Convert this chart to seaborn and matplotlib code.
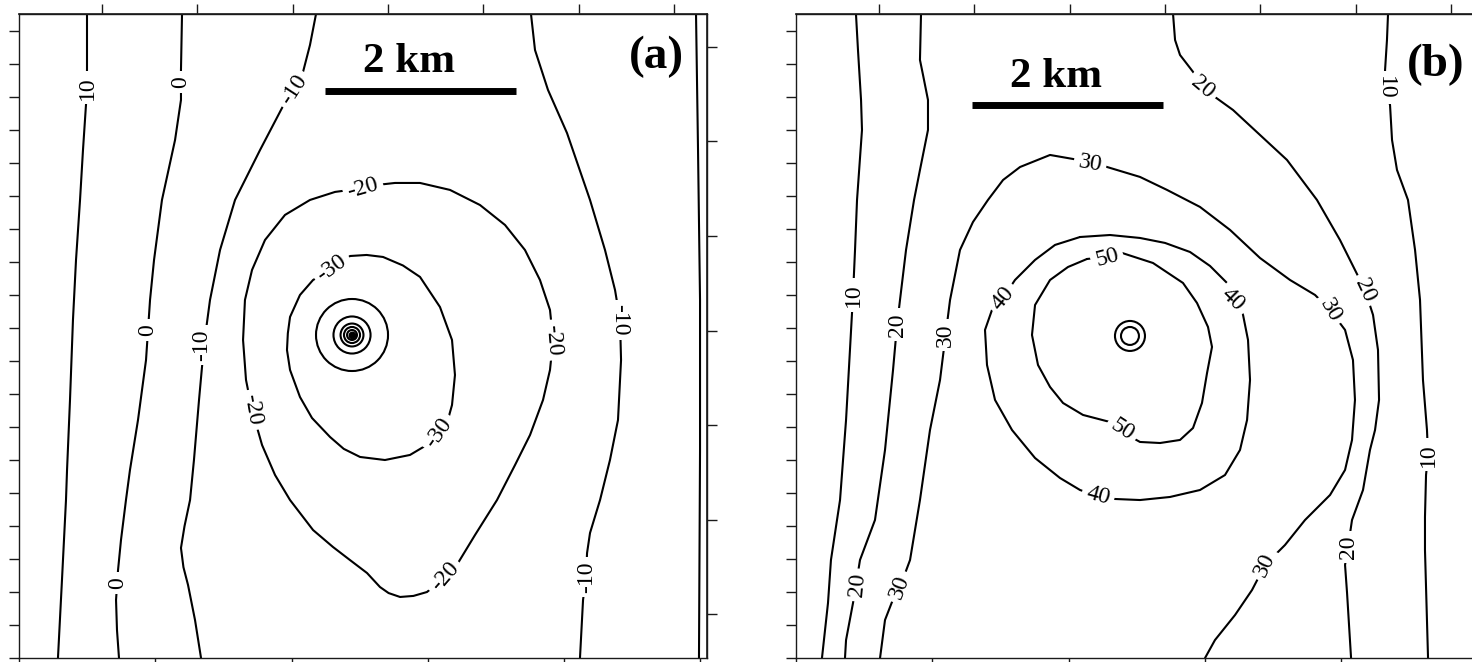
import numpy as np
import pandas as pd
import matplotlib
matplotlib.use("Agg")
import matplotlib.pyplot as plt
from matplotlib.patches import Circle
import seaborn as sns

# ------------------------------------------------------------------
# Contour paths, (x, y) in km from the lower-left corner of each map
# ------------------------------------------------------------------

# ---- panel (a) ----
A_10_W = [(0.712, 6.743), (0.712, 6.157), (0.702, 5.801), (0.670, 5.319), (0.639, 4.796),
          (0.597, 4.168), (0.565, 3.539), (0.534, 2.702), (0.503, 1.969), (0.492, 1.654),
          (0.450, 0.817), (0.408, 0.000)]
A_10_W_LABELS = [(0.712, 5.969, 90)]

A_0_W = [(1.707, 6.743), (1.696, 6.157), (1.696, 5.843), (1.634, 5.424), (1.497, 4.796),
         (1.414, 4.168), (1.372, 3.749), (1.330, 3.120), (1.246, 2.492), (1.162, 1.969),
         (1.120, 1.654), (1.068, 1.236), (1.037, 0.921), (1.016, 0.607), (1.026, 0.293),
         (1.047, 0.000)]
A_0_W_LABELS = [(1.696, 6.031, 90), (1.351, 3.435, 90), (1.037, 0.785, 90)]

A_M10_W = [(3.110, 6.743), (3.047, 6.419), (2.974, 6.136), (2.754, 5.759), (2.524, 5.319),
           (2.262, 4.796), (2.105, 4.272), (2.000, 3.749), (1.937, 3.277), (1.885, 2.702),
           (1.832, 2.073), (1.791, 1.654), (1.733, 1.380), (1.696, 1.152), (1.722, 0.950),
           (1.770, 0.764), (1.843, 0.398), (1.906, 0.000)]
A_M10_W_LABELS = [(2.880, 5.948, 57), (1.916, 3.277, 90)]

A_M10_E = [(5.361, 6.743), (5.403, 6.366), (5.539, 5.948), (5.738, 5.497), (5.979, 4.796),
           (6.136, 4.272), (6.241, 3.853), (6.293, 3.539), (6.304, 3.120), (6.272, 2.492),
           (6.188, 2.073), (6.084, 1.654), (5.979, 1.309), (5.948, 1.099), (5.937, 0.848),
           (5.906, 0.607), (5.874, 0.000)]
A_M10_E_LABELS = [(6.293, 3.539, -90), (5.948, 0.848, 90)]

A_0_E = [(7.089, 6.743), (7.110, 5.319), (7.131, 3.749), (7.131, 2.178), (7.120, 0.000)]
A_0_E_LABELS = []

A_M20 = [(3.749, 4.953), (3.937, 4.974), (4.199, 4.974), (4.513, 4.901), (4.827, 4.743),
         (5.089, 4.534), (5.298, 4.272), (5.455, 3.958), (5.560, 3.644), (5.592, 3.330),
         (5.560, 3.016), (5.487, 2.702), (5.351, 2.335), (5.194, 2.021), (5.005, 1.654),
         (4.775, 1.288), (4.597, 0.995), (4.461, 0.848), (4.272, 0.691), (4.130, 0.650),
         (3.990, 0.639), (3.870, 0.680), (3.780, 0.743), (3.644, 0.890), (3.460, 1.030),
         (3.288, 1.162), (3.079, 1.340), (2.838, 1.654), (2.681, 1.916), (2.545, 2.230),
         (2.440, 2.597), (2.377, 2.911), (2.346, 3.330), (2.366, 3.749), (2.440, 4.063),
         (2.576, 4.377), (2.785, 4.639), (3.047, 4.796), (3.309, 4.880), (3.466, 4.901)]
A_M20_LABELS = [(3.602, 4.921, 16), (5.592, 3.330, -85), (4.461, 0.848, 49), (2.440, 2.597, -80)]

A_M30 = [(3.414, 4.168), (3.466, 4.209), (3.640, 4.220), (3.812, 4.199), (4.020, 4.110),
         (4.199, 3.990), (4.408, 3.675), (4.534, 3.330), (4.565, 2.963), (4.534, 2.649),
         (4.482, 2.461), (4.387, 2.335), (4.304, 2.251), (4.094, 2.126), (3.832, 2.073),
         (3.571, 2.105), (3.400, 2.190), (3.257, 2.314), (3.068, 2.513), (2.942, 2.733),
         (2.838, 3.016), (2.806, 3.225), (2.815, 3.400), (2.838, 3.571), (2.942, 3.801),
         (3.079, 3.958), (3.204, 4.031), (3.340, 4.126)]
A_M30_LABELS = [(3.277, 4.084, 36), (4.398, 2.356, 55)]

# closed rings around the central low
A_RING_CENTER = (3.487, 3.382)
A_RING_LEVELS = [-40, -50, -60, -70, -80]
A_RING_RADII = [0.377, 0.194, 0.120, 0.084, 0.052]

# ---- panel (b) ----
B_10_W = [(0.628, 6.743), (0.649, 6.366), (0.681, 5.843), (0.691, 5.529), (0.639, 4.796),
          (0.618, 4.272), (0.597, 3.801), (0.565, 3.225), (0.524, 2.492), (0.461, 1.654),
          (0.366, 1.026), (0.335, 0.576), (0.272, 0.000)]
B_10_W_LABELS = [(0.597, 3.801, 90)]

B_20_W = [(1.309, 6.743), (1.298, 6.262), (1.330, 6.105), (1.382, 5.843), (1.382, 5.529),
          (1.298, 5.110), (1.236, 4.796), (1.152, 4.272), (1.089, 3.749), (1.058, 3.487),
          (1.016, 3.016), (0.932, 2.178), (0.827, 1.445), (0.670, 1.026), (0.628, 0.764),
          (0.597, 0.576), (0.524, 0.188), (0.513, 0.000)]
B_20_W_LABELS = [(1.058, 3.487, 90), (0.649, 0.764, 85)]

B_30 = [(0.880, 0.000), (0.932, 0.398), (1.005, 0.586), (1.089, 0.743), (1.194, 1.026),
        (1.298, 1.654), (1.403, 2.387), (1.508, 2.911), (1.560, 3.330), (1.613, 3.749),
        (1.717, 4.272), (1.853, 4.565), (2.010, 4.796), (2.168, 5.005), (2.346, 5.141),
        (2.660, 5.267), (3.079, 5.194), (3.257, 5.141), (3.602, 5.037), (3.885, 4.901),
        (4.230, 4.723), (4.545, 4.482), (4.859, 4.188), (5.173, 3.958), (5.435, 3.801),
        (5.592, 3.644), (5.749, 3.435), (5.832, 3.120), (5.853, 2.702), (5.822, 2.283),
        (5.749, 1.969), (5.592, 1.707), (5.330, 1.445), (5.120, 1.183), (4.911, 0.974),
        (4.775, 0.712), (4.597, 0.450), (4.387, 0.188), (4.283, 0.000)]
B_30_LABELS = [(1.089, 0.743, 70), (1.560, 3.382, 90), (3.079, 5.173, -10),
               (5.592, 3.644, -60), (4.911, 0.974, 65)]

B_20_E = [(3.948, 6.743), (3.969, 6.471), (4.021, 6.314), (4.126, 6.178), (4.262, 6.000),
          (4.387, 5.874), (4.576, 5.738), (4.859, 5.476), (5.141, 5.215), (5.455, 4.796),
          (5.696, 4.377), (5.853, 4.063), (5.958, 3.853), (6.042, 3.592), (6.094, 3.225),
          (6.105, 2.702), (6.063, 2.387), (6.010, 2.178), (5.937, 1.759), (5.822, 1.445),
          (5.780, 1.162), (5.749, 0.974), (5.770, 0.681), (5.812, 0.000)]
B_20_E_LABELS = [(4.262, 5.979, -40), (5.958, 3.853, -65), (5.780, 1.162, 90)]

B_10_E = [(6.199, 6.743), (6.188, 6.471), (6.168, 6.157), (6.168, 5.969), (6.220, 5.791),
          (6.241, 5.424), (6.293, 5.110), (6.408, 4.796), (6.482, 4.272), (6.534, 3.749),
          (6.565, 2.911), (6.607, 2.387), (6.618, 2.126), (6.597, 1.916), (6.586, 1.476),
          (6.586, 1.131), (6.618, 0.000)]
B_10_E_LABELS = [(6.168, 5.969, -90), (6.618, 2.126, 90)]

B_40 = [(2.974, 4.408), (3.288, 4.429), (3.602, 4.398), (3.864, 4.346), (4.126, 4.251),
        (4.335, 4.105), (4.513, 3.927), (4.597, 3.749), (4.681, 3.592), (4.733, 3.330),
        (4.754, 2.911), (4.723, 2.492), (4.649, 2.178), (4.492, 1.916), (4.230, 1.759),
        (3.916, 1.686), (3.602, 1.654), (3.340, 1.665), (3.162, 1.696), (2.974, 1.759),
        (2.764, 1.885), (2.503, 2.094), (2.262, 2.387), (2.084, 2.702), (2.000, 3.068),
        (1.979, 3.435), (2.052, 3.644), (2.168, 3.770), (2.293, 3.958), (2.503, 4.168),
        (2.712, 4.325)]
B_40_LABELS = [(4.576, 3.749, -45), (3.162, 1.696, -15), (2.168, 3.770, 50)]

B_50 = [(3.047, 4.178), (3.257, 4.199), (3.414, 4.241), (3.738, 4.136), (4.052, 3.927),
        (4.199, 3.717), (4.314, 3.466), (4.356, 3.257), (4.304, 2.984), (4.251, 2.670),
        (4.157, 2.408), (4.021, 2.283), (3.812, 2.251), (3.602, 2.262), (3.414, 2.366),
        (3.288, 2.471), (3.005, 2.545), (2.796, 2.670), (2.660, 2.838), (2.534, 3.068),
        (2.471, 3.382), (2.503, 3.696), (2.660, 3.958), (2.848, 4.094)]
B_50_LABELS = [(3.257, 4.189, 15), (3.414, 2.387, -33)]

B_RING_CENTER = (3.497, 3.372)
B_RING_LEVELS = [60, 70]
B_RING_RADII = [0.157, 0.094]

# (level, path, closed, label placements)
PANEL_A = [
    (10, A_10_W, False, A_10_W_LABELS),
    (0, A_0_W, False, A_0_W_LABELS),
    (-10, A_M10_W, False, A_M10_W_LABELS),
    (-10, A_M10_E, False, A_M10_E_LABELS),
    (0, A_0_E, False, A_0_E_LABELS),
    (-20, A_M20, True, A_M20_LABELS),
    (-30, A_M30, True, A_M30_LABELS),
]
PANEL_B = [
    (10, B_10_W, False, B_10_W_LABELS),
    (20, B_20_W, False, B_20_W_LABELS),
    (30, B_30, False, B_30_LABELS),
    (20, B_20_E, False, B_20_E_LABELS),
    (10, B_10_E, False, B_10_E_LABELS),
    (40, B_40, True, B_40_LABELS),
    (50, B_50, True, B_50_LABELS),
]

# map extent (km) and tick positions
MAP_W, MAP_H = 7.204, 6.743
BOTTOM_TICKS = [0.0, 1.427, 2.854, 4.281, 5.708, 7.135]
LEFT_TICKS = [round(0.3455 * i, 3) for i in range(20)]
TOP_TICKS = [round(0.869 + 0.998 * i, 3) for i in range(7)]
RIGHT_TICKS = [round(6.398 - 0.9895 * i, 3) for i in range(7)]

SCALE_KM = 2
LINE_W = 1.5
SERIF = ["Liberation Serif", "DejaVu Serif"]
INK = "black"


def contour_frame(contours):
    rows = []
    for cid, (level, path, closed, _) in enumerate(contours):
        pts = list(path) + ([path[0]] if closed else [])
        for order, (x, y) in enumerate(pts):
            rows.append({"cid": cid, "level": level, "order": order, "x": x, "y": y})
    return pd.DataFrame(rows)


def style_frame(ax):
    ax.set_xlim(0, MAP_W)
    ax.set_ylim(0, MAP_H)
    ax.set_xlabel("")
    ax.set_ylabel("")
    ax.grid(False)
    for sp in ax.spines.values():
        sp.set_visible(True)
        sp.set_color("#1a1a1a")
        sp.set_linewidth(1.0)
    ax.set_xticks(BOTTOM_TICKS)
    ax.set_yticks(LEFT_TICKS)
    ax.tick_params(direction="out", length=7, width=1.0, color="#1a1a1a",
                   labelbottom=False, labelleft=False, bottom=True, left=True)
    top = ax.secondary_xaxis("top")
    top.set_xticks(TOP_TICKS)
    top.set_xticklabels([])
    top.tick_params(direction="out", length=7, width=1.0, color="#1a1a1a")
    right = ax.secondary_yaxis("right")
    right.set_yticks(RIGHT_TICKS)
    right.set_yticklabels([])
    right.tick_params(direction="out", length=7, width=1.0, color="#1a1a1a")


def draw_panel(ax, contours, ring_center, ring_radii, tag, bar_mid, bar_y, text_xy, tag_xy,
               center_dot=False):
    df = contour_frame(contours)
    sns.lineplot(data=df, x="x", y="y", units="cid", estimator=None, sort=False,
                 color=INK, linewidth=LINE_W, legend=False, ax=ax, zorder=2)
    for r in ring_radii:
        ax.add_patch(Circle(ring_center, r, fill=False, ec=INK, lw=LINE_W, zorder=2))
    if center_dot:
        ax.scatter([ring_center[0]], [ring_center[1]], s=22, color=INK, zorder=3)
    for level, _, _, labels in contours:
        for (lx, ly, rot) in labels:
            ax.text(lx, ly, f"{level}", rotation=rot, rotation_mode="anchor",
                    ha="center", va="center", fontsize=17, family=SERIF,
                    color=INK, zorder=4,
                    bbox=dict(boxstyle="square,pad=0.2", fc="white", ec="none"))
    # scale bar
    ax.plot([bar_mid - SCALE_KM / 2, bar_mid + SCALE_KM / 2], [bar_y, bar_y],
            color=INK, lw=5, solid_capstyle="butt", zorder=5)
    ax.text(text_xy[0], text_xy[1], f"{SCALE_KM} km", ha="center", va="baseline",
            fontsize=31, fontweight="bold", family=SERIF, color=INK, zorder=5)
    ax.text(tag_xy[0], tag_xy[1], tag, transform=ax.transAxes, ha="center", va="center",
            fontsize=34, fontweight="bold", family=SERIF, color=INK, zorder=5)
    style_frame(ax)


sns.set_theme(style="ticks")
plt.rcParams["font.family"] = SERIF

fig = plt.figure(figsize=(14.72, 6.62), dpi=100)
fig.patch.set_facecolor("white")
W, H = 1472.0, 662.0
ax_a = fig.add_axes([19 / W, 4 / H, 688 / W, 644 / H])
ax_b = fig.add_axes([796 / W, 4 / H, 688 / W, 644 / H])

draw_panel(ax_a, PANEL_A, A_RING_CENTER, A_RING_RADII, "(a)",
           bar_mid=4.199, bar_y=5.942, text_xy=(4.084, 6.136), tag_xy=(0.927, 0.933),
           center_dot=True)
draw_panel(ax_b, PANEL_B, B_RING_CENTER, B_RING_RADII, "(b)",
           bar_mid=2.848, bar_y=5.791, text_xy=(2.723, 5.979), tag_xy=(0.930, 0.921))

fig.savefig("out.png", dpi=100, facecolor="white")
